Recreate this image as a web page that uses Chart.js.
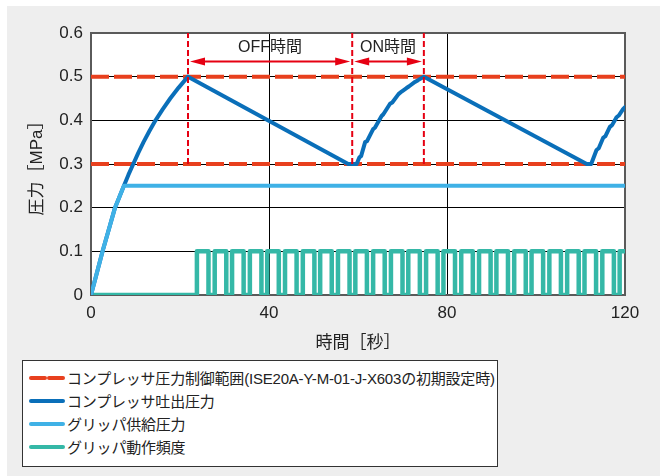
<!DOCTYPE html>
<html>
<head>
<meta charset="utf-8">
<script src="https://cdn.jsdelivr.net/npm/chart.js@4"></script>
<style>
  html, body { margin: 0; padding: 0; background: #fff; }
  #wrap { position: relative; width: 660px; height: 476px; overflow: hidden; }
  #panel { position: absolute; left: 7px; top: 6px; right: 0; bottom: 0; background: #eeeeee; }
  #chart { position: absolute; left: 0; top: 0; }
  #legend {
    position: absolute; left: 22px; top: 360px; width: 474px; height: 100px;
    background: #fff; border: 1px solid #333; box-sizing: content-box;
    font-family: "Liberation Sans", "Noto Sans CJK JP", sans-serif; font-size: 15px; color: #222;
    padding-top: 5px; letter-spacing: -0.2px;
  }
  .row { height: 23px; display: flex; align-items: center; padding-left: 6px; white-space: nowrap; }
  .row svg { margin-right: 2px; flex: none; }
</style>
</head>
<body>
<div id="wrap">
  <div id="panel"></div>
  <canvas id="chart" width="660" height="476"></canvas>
  <div id="legend"></div>
</div>
<script>
// --- values (time in s, pressure in MPa) ---
const timeTicks = [0, 40, 80, 120];
const pressureTicks = [0, 0.1, 0.2, 0.3, 0.4, 0.5, 0.6];
const controlLow = 0.3;
const controlHigh = 0.5;

// compressor discharge pressure
const compressorCurve = [[0, 0], [1.3, 0.05], [2.6, 0.1], [4, 0.15], [5.4, 0.2], [6.4, 0.225], [7.4, 0.25],
  [8.4, 0.275], [9.5, 0.3], [10.6, 0.325], [11.8, 0.35], [13.1, 0.375], [14.5, 0.4], [16.1, 0.425],
  [17.8, 0.45], [19.7, 0.475], [21.8, 0.5]];
const compressorCycle = [[57.8, 0.3], [59.7, 0.3], [60.3, 0.315], [60.7, 0.318], [61.6, 0.35], [62.0, 0.352],
  [63.4, 0.38], [63.8, 0.383], [65.3, 0.41], [65.7, 0.414], [67.2, 0.438], [67.7, 0.441], [69.1, 0.46],
  [69.8, 0.466], [70.9, 0.474], [71.5, 0.478], [72.8, 0.488], [73.5, 0.492], [74.8, 0.5],
  [111.4, 0.3], [112.4, 0.3], [113.6, 0.332], [114.1, 0.336], [115.1, 0.36], [115.6, 0.364],
  [116.6, 0.385], [117.1, 0.389], [118.1, 0.407], [118.6, 0.411], [119.6, 0.426], [120, 0.43]];

// gripper supply pressure
const gripperSupply = [[0, 0], [1.3, 0.05], [2.6, 0.1], [4, 0.15], [5.4, 0.2], [6.4, 0.225], [7.4, 0.25], [120, 0.25]];

// gripper operation (on = 0.1, off = 0)
const pulseLevel = 0.1;
const riseTimes = [23.8, 27.8, 31.7, 35.7, 39.6, 43.6, 47.6, 51.5, 55.5, 59.4, 63.4, 67.4, 71.3,
  75.3, 79.2, 83.2, 87.2, 91.1, 95.1, 99.0, 103.0, 107.0, 110.9, 114.9, 118.8];
const fallTimes = [26.4, 30.4, 34.3, 38.3, 42.2, 46.2, 50.2, 54.1, 58.1, 62.0, 66.0, 70.0, 73.9,
  77.9, 81.8, 85.8, 89.8, 93.7, 97.7, 101.6, 105.6, 109.6, 113.5, 117.5];

// OFF / ON markers
const offStart = 21.8, onStart = 58.7, onEnd = 74.8;
const arrowLevel = 0.535;
const labelLevel = 0.566;

const labels = [
  'コンプレッサ圧力制御範囲(ISE20A-Y-M-01-J-X603の初期設定時)',
  'コンプレッサ吐出圧力',
  'グリッパ供給圧力',
  'グリッパ動作頻度'
];
const colors = { range: '#e8401e', compressor: '#0a6fb9', supply: '#3fb1e6', pulse: '#35b8a7', marker: '#e60012' };

// --- build datasets ---
const pts = arr => arr.map(p => ({ x: p[0], y: p[1] }));
const tMax = timeTicks[timeTicks.length - 1];

const pulse = [{ x: 0, y: 0 }];
riseTimes.forEach((t, i) => {
  pulse.push({ x: t, y: 0 }, { x: t, y: pulseLevel });
  if (fallTimes[i] !== undefined) pulse.push({ x: fallTimes[i], y: pulseLevel }, { x: fallTimes[i], y: 0 });
});
pulse.push({ x: tMax, y: pulseLevel });

const markers = [];
[offStart, onStart, onEnd].forEach(t => markers.push({ x: t, y: controlLow }, { x: t, y: 0.6 }, { x: t, y: null }));

const lineBase = { pointRadius: 0, borderWidth: 4, tension: 0, fill: false, borderJoinStyle: 'round', borderCapStyle: 'round' };
const rangeLine = (lvl, lbl) => ({ ...lineBase, label: lbl, data: [{ x: 0, y: lvl }, { x: tMax, y: lvl }],
  borderColor: colors.range, borderDash: [18, 5], borderCapStyle: 'butt', order: 3 });

const chartAreaPlugin = {
  id: 'areaBox',
  beforeDraw(chart) {
    const { ctx, chartArea: a } = chart;
    ctx.save();
    ctx.fillStyle = '#fff';
    ctx.fillRect(a.left, a.top, a.right - a.left, a.bottom - a.top);
    ctx.restore();
  },
  beforeDatasetsDraw(chart) {
    const { ctx, chartArea: a } = chart;
    ctx.save();
    ctx.strokeStyle = '#5a5a5a';
    ctx.lineWidth = 2;
    ctx.strokeRect(a.left, a.top, a.right - a.left, a.bottom - a.top);
    ctx.restore();
  }
};

const arrowPlugin = {
  id: 'offOnArrows',
  afterDatasetsDraw(chart) {
    const { ctx, scales: { x, y } } = chart;
    const ay = y.getPixelForValue(arrowLevel);
    const head = (px, dir) => {
      ctx.beginPath();
      ctx.moveTo(px, ay);
      ctx.lineTo(px + dir * 15, ay - 4);
      ctx.lineTo(px + dir * 15, ay + 4);
      ctx.closePath();
      ctx.fill();
    };
    ctx.save();
    ctx.strokeStyle = colors.marker;
    ctx.fillStyle = colors.marker;
    ctx.lineWidth = 2;
    [[offStart, onStart, 'OFF時間'], [onStart, onEnd, 'ON時間']].forEach(([a, b, txt]) => {
      const x1 = x.getPixelForValue(a) + 2, x2 = x.getPixelForValue(b) - 2;
      ctx.beginPath();
      ctx.moveTo(x1 + 8, ay);
      ctx.lineTo(x2 - 8, ay);
      ctx.stroke();
      head(x1, 1);
      head(x2, -1);
      ctx.save();
      ctx.fillStyle = '#222';
      ctx.font = '16px "Liberation Sans", "Noto Sans CJK JP", sans-serif';
      ctx.textAlign = 'center';
      ctx.textBaseline = 'middle';
      ctx.fillText(txt, (x1 + x2) / 2, y.getPixelForValue(labelLevel));
      ctx.restore();
    });
    ctx.restore();
  }
};

Chart.defaults.font.family = '"Liberation Sans", "Noto Sans CJK JP", sans-serif';
Chart.defaults.color = '#222';

new Chart(document.getElementById('chart'), {
  type: 'line',
  data: {
    datasets: [
      { ...lineBase, label: 'marker', data: markers, borderColor: colors.marker, borderWidth: 2, borderDash: [6, 3], borderCapStyle: 'butt', spanGaps: false, order: 0 },
      { ...lineBase, label: labels[2], data: pts(gripperSupply), borderColor: colors.supply, order: 1 },
      { ...lineBase, label: labels[1], data: pts(compressorCurve.concat(compressorCycle)), borderColor: colors.compressor, order: 2 },
      rangeLine(controlHigh, labels[0]),
      rangeLine(controlLow, labels[0]),
      { ...lineBase, label: labels[3], data: pulse, borderColor: colors.pulse, borderWidth: 4.5, order: 4 }
    ]
  },
  options: {
    responsive: false,
    animation: false,
    events: [],
    layout: { padding: { left: 0, top: 33, right: 35, bottom: 121 } },
    plugins: { legend: { display: false }, tooltip: { enabled: false } },
    scales: {
      x: {
        type: 'linear', min: 0, max: tMax,
        afterBuildTicks: s => { s.ticks = timeTicks.map(v => ({ value: v })); },
        afterFit: s => { s.height = 60; },
        ticks: { font: { size: 17 }, padding: 8, maxRotation: 0 },
        grid: { color: '#000', lineWidth: 1, drawTicks: false },
        border: { display: false },
        title: { display: true, text: '時間［秒］', font: { size: 17 }, padding: { top: 0, bottom: 1 } }
      },
      y: {
        type: 'linear', min: 0, max: 0.6,
        afterBuildTicks: s => { s.ticks = pressureTicks.map(v => ({ value: v })); },
        afterFit: s => { s.width = 91; },
        ticks: { font: { size: 17 }, padding: 8, callback: v => v === 0 ? '0' : v.toFixed(1) },
        grid: { color: '#000', lineWidth: 1, drawTicks: false },
        border: { display: false },
        title: { display: true, text: '圧力［MPa］', font: { size: 17 }, padding: { top: 27, bottom: 0 } }
      }
    }
  },
  plugins: [chartAreaPlugin, arrowPlugin]
});

// legend as html, same order as the reference
const legendItems = [
  { text: labels[0], color: colors.range, dash: true },
  { text: labels[1], color: colors.compressor },
  { text: labels[2], color: colors.supply },
  { text: labels[3], color: colors.pulse }
];
document.getElementById('legend').innerHTML = legendItems.map(it => {
  const line = it.dash
    ? `<line x1="2" y1="5" x2="16" y2="5"/><line x1="20" y1="5" x2="34" y2="5"/>`
    : `<line x1="2" y1="5" x2="34" y2="5"/>`;
  return `<div class="row"><svg width="36" height="10"><g stroke="${it.color}" stroke-width="4" stroke-linecap="round">${line}</g></svg><span>${it.text}</span></div>`;
}).join('');
</script>
</body>
</html>
